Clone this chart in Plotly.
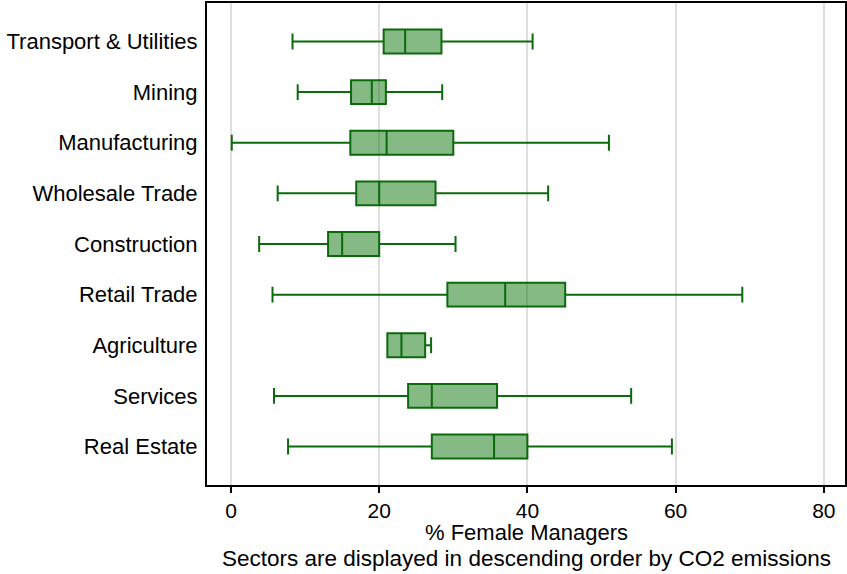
import plotly.graph_objects as go

# sectors, top to bottom (descending CO2 emissions)
sectors = ["Transport & Utilities", "Mining", "Manufacturing", "Wholesale Trade",
           "Construction", "Retail Trade", "Agriculture", "Services", "Real Estate"]

# box statistics of % female managers
lower = [8.3, 9.0, 0.1, 6.3, 3.8, 5.6, 21.1, 5.8, 7.7]
q1 = [20.6, 16.2, 16.1, 16.9, 13.1, 29.2, 21.1, 23.9, 27.1]
median = [23.5, 19.0, 21.0, 20.0, 15.0, 37.0, 23.0, 27.1, 35.5]
q3 = [28.4, 20.9, 30.0, 27.6, 20.0, 45.1, 26.2, 35.9, 40.0]
upper = [40.7, 28.5, 51.0, 42.8, 30.3, 69.0, 27.0, 54.0, 59.5]

x_ticks = [0, 20, 40, 60, 80]

FONT = "Liberation Sans, Arial, sans-serif"

fig = go.Figure()
fig.add_trace(go.Box(
    y=sectors,
    q1=q1,
    median=median,
    q3=q3,
    lowerfence=lower,
    upperfence=upper,
    orientation="h",
    width=0.47,
    whiskerwidth=0.67,
    fillcolor="rgba(0,110,0,0.48)",
    line=dict(color="#0b6a0b", width=2),
    boxpoints=False,
    hoverinfo="skip",
    showlegend=False,
))

fig.update_layout(
    width=847,
    height=574,
    margin=dict(l=207, r=2, t=3, b=89, autoexpand=False),
    paper_bgcolor="white",
    plot_bgcolor="white",
    font=dict(family=FONT, size=22, color="black"),
    xaxis=dict(
        range=[-3.24, 82.86],
        tickvals=x_ticks,
        ticks="outside",
        ticklen=6,
        tickwidth=1.5,
        tickcolor="black",
        tickfont=dict(size=21),
        showgrid=True,
        gridcolor="#dedede",
        gridwidth=1.5,
        zeroline=False,
        showline=True,
        linecolor="black",
        linewidth=2,
        mirror=True,
    ),
    yaxis=dict(
        type="category",
        categoryorder="array",
        categoryarray=sectors,
        range=[8.76, -0.76],
        showgrid=False,
        zeroline=False,
        showline=True,
        linecolor="black",
        linewidth=2,
        mirror=True,
        ticks="",
        ticklabelstandoff=3,
    ),
)

# axis title and note sit tight under the tick labels, so place them as annotations
fig.add_annotation(
    text="% Female Managers",
    xref="paper", yref="paper",
    x=0.5, y=-0.099,
    xanchor="center", yanchor="middle",
    showarrow=False,
    font=dict(family=FONT, size=22, color="black"),
)
fig.add_annotation(
    text="Sectors are displayed in descending order by CO2 emissions",
    xref="paper", yref="paper",
    x=0.5, y=-0.153,
    xanchor="center", yanchor="middle",
    showarrow=False,
    font=dict(family=FONT, size=22.5, color="black"),
)

fig.write_html("out.html", config={"displayModeBar": False},
               post_script="document.body.style.margin='0';")
